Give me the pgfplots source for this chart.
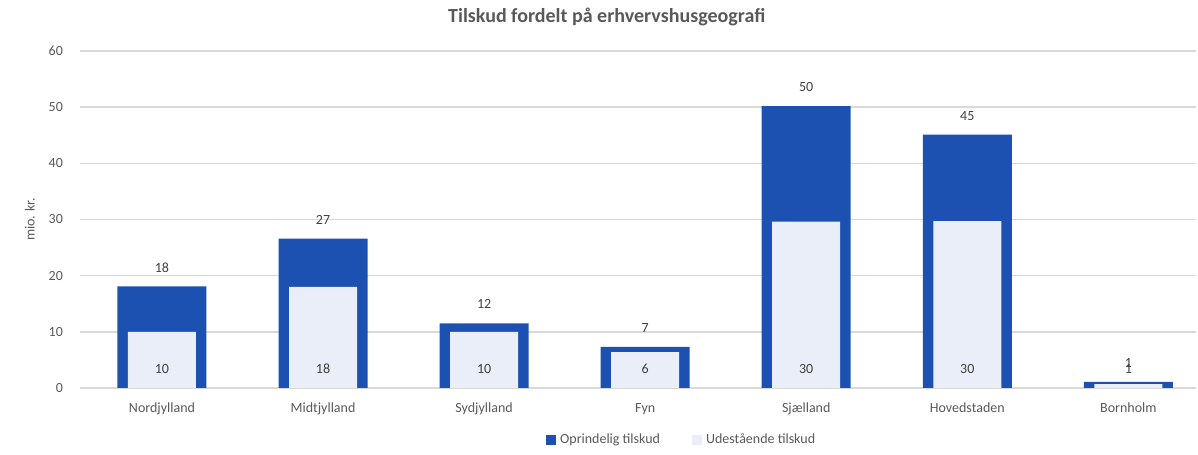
\documentclass[border=0pt]{standalone}
\usepackage{pgfplots}
\pgfplotsset{compat=1.18}
\usepackage{fontspec}
\setmainfont{Carlito}

\definecolor{darkblue}{HTML}{1C51B2}
\definecolor{lightblue}{HTML}{E9EEF8}
\definecolor{gridgray}{HTML}{D9D9D9}
\definecolor{txtgray}{HTML}{595959}
\definecolor{lbl}{HTML}{404040}

\begin{document}
\begin{tikzpicture}
  \begin{axis}[
      name=ax,
      scale only axis,
      width=558pt, height=168.5pt,
      xmin=-0.509, xmax=6.42,
      ymin=0, ymax=60,
      ytick={0,10,...,60},
      xtick={0,...,6},
      xticklabels={Nordjylland,Midtjylland,Sydjylland,Fyn,Sjælland,Hovedstaden,Bornholm},
      axis line style={draw=none},
      ymajorgrids,
      grid style={gridgray, line width=0.7pt},
      major tick length=0pt,
      tick label style={font=\fontsize{7}{8}\selectfont, text=txtgray},
      /pgf/number format/assume math mode=true,
      yticklabel style={xshift=-5pt},
      xticklabel style={yshift=-4pt},
      ylabel={mio. kr.},
      every axis y label/.style={at={(axis description cs:-0.045,0.5)}, rotate=90, anchor=center,
        font=\fontsize{7}{8}\selectfont, text=txtgray},
      title={Tilskud fordelt på erhvervshusgeografi},
      every axis title/.style={at={(axis description cs:0.472,1)}, anchor=center, yshift=17pt,
        font=\bfseries\fontsize{10}{12}\selectfont, text=txtgray},
      legend style={at={(axis description cs:0.54,0)}, anchor=center, yshift=-26pt,
        draw=none, fill=none, legend columns=2, font=\fontsize{7}{8}\selectfont, text=txtgray,
        /tikz/every even column/.append style={column sep=14pt}},
      legend image code/.code={\fill[#1] (0pt,-2.3pt) rectangle (5pt,2.7pt);},
      nodes near coords={\pgfmathprintnumber[fixed,precision=0]{\pgfplotspointmeta}},
      every node near coord/.append style={font=\fontsize{7}{8}\selectfont, text=lbl},
    ]
    \addplot[ybar, bar width=44.5pt, bar shift=0pt, fill=darkblue, draw=none,
      every node near coord/.append style={anchor=center, yshift=9.5pt}]
      coordinates {(0,18.1) (1,26.6) (2,11.5) (3,7.3) (4,50.2) (5,45.1) (6,1.1)};
    \addlegendentry{Oprindelig tilskud}
    \addplot[ybar, bar width=34pt, bar shift=0pt, fill=lightblue, draw=none,
      visualization depends on={y \as \rawy},
      every node near coord/.append style={anchor=center,
        shift={(axis direction cs:0,-\rawy)}, yshift=9.5pt}]
      coordinates {(0,10) (1,18) (2,10) (3,6.4) (4,29.6) (5,29.7) (6,0.7)};
    \addlegendentry{Udestående tilskud}
  \end{axis}
  \path (ax.south west) ++(-40pt,-32pt) coordinate (bbA);
  \path (ax.north east) ++(1pt,25.5pt) coordinate (bbB);
  \path (bbA) rectangle (bbB);
\end{tikzpicture}
\end{document}
